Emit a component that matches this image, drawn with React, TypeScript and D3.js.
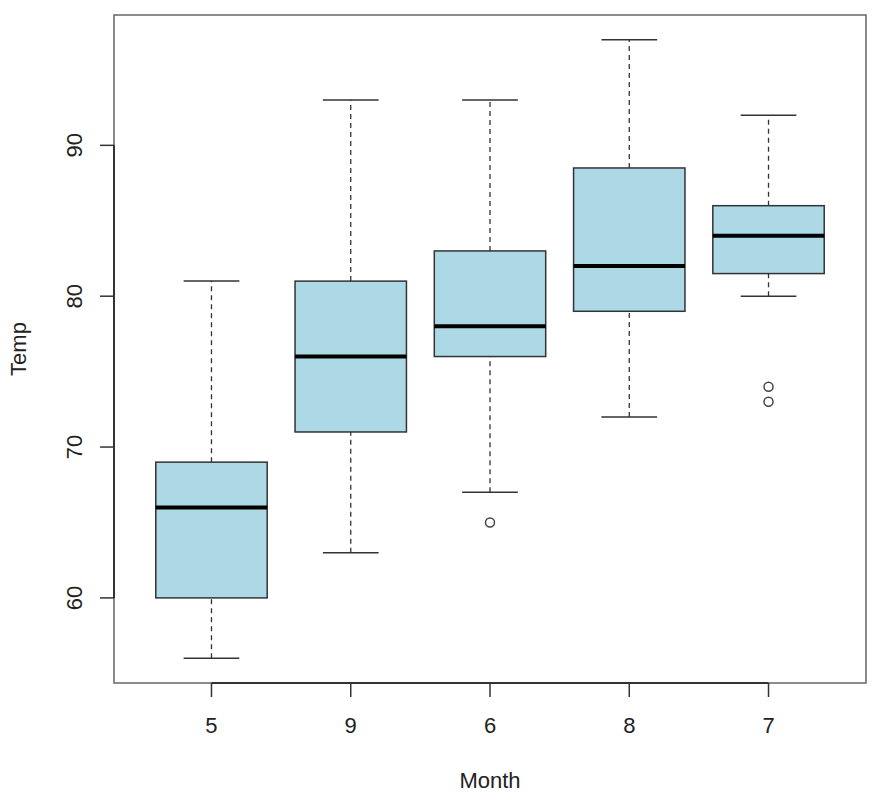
import { useEffect, useRef } from "react";
import * as d3 from "d3";

// Temperature by month, ordered by median
const months = ["5", "9", "6", "8", "7"];
const lowerWhisker = [56, 63, 67, 72, 80];
const q1 = [60, 71, 76, 79, 81.5];
const medians = [66, 76, 78, 82, 84];
const q3 = [69, 81, 83, 88.5, 86];
const upperWhisker = [81, 93, 93, 97, 92];
const outlierMonth = ["6", "7", "7"];
const outlierTemp = [65, 74, 73];
const yTicks = [60, 70, 80, 90];

const App = () => {
  const svgRef = useRef<SVGSVGElement | null>(null);

  useEffect(() => {
    if (!svgRef.current) return;
    const width = 875;
    const height = 800;
    const left = 114;
    const right = 866;
    const top = 15;
    const bottom = 683;
    const font = "Liberation Sans, Arial, sans-serif";

    const svg = d3.select(svgRef.current).attr("width", width).attr("height", height);
    svg.selectAll("*").remove();

    // R-style ranges: data range padded by 4%
    const lo = d3.min(lowerWhisker)!;
    const hi = d3.max(upperWhisker)!;
    const pad = (hi - lo) * 0.04;
    const y = d3.scaleLinear().domain([lo - pad, hi + pad]).range([bottom, top]);
    const x = d3.scaleLinear().domain([0.3, months.length + 0.7]).range([left, right]);
    const pos = (m: string) => x(months.indexOf(m) + 1);
    const boxW = x(0.8) - x(0);

    const boxes = months.map((m, i) => ({
      m,
      lw: lowerWhisker[i],
      q1: q1[i],
      med: medians[i],
      q3: q3[i],
      uw: upperWhisker[i],
    }));

    const g = svg.append("g");

    // dashed whiskers
    boxes.forEach((b) => {
      const cx = pos(b.m);
      [[b.lw, b.q1], [b.q3, b.uw]].forEach(([a, c]) => {
        g.append("line")
          .attr("x1", cx).attr("x2", cx)
          .attr("y1", y(a)).attr("y2", y(c))
          .attr("stroke", "#333")
          .attr("stroke-width", 1.3)
          .attr("stroke-dasharray", "5,4");
      });
      [b.lw, b.uw].forEach((v) => {
        g.append("line")
          .attr("x1", cx - boxW / 4).attr("x2", cx + boxW / 4)
          .attr("y1", y(v)).attr("y2", y(v))
          .attr("stroke", "#333")
          .attr("stroke-width", 1.5);
      });
    });

    // boxes and medians
    g.selectAll("rect.box")
      .data(boxes)
      .enter()
      .append("rect")
      .attr("class", "box")
      .attr("x", (d) => pos(d.m) - boxW / 2)
      .attr("width", boxW)
      .attr("y", (d) => y(d.q3))
      .attr("height", (d) => y(d.q1) - y(d.q3))
      .attr("fill", "#ADD8E6")
      .attr("stroke", "#333")
      .attr("stroke-width", 1.5);

    g.selectAll("line.median")
      .data(boxes)
      .enter()
      .append("line")
      .attr("class", "median")
      .attr("x1", (d) => pos(d.m) - boxW / 2)
      .attr("x2", (d) => pos(d.m) + boxW / 2)
      .attr("y1", (d) => y(d.med))
      .attr("y2", (d) => y(d.med))
      .attr("stroke", "#000")
      .attr("stroke-width", 4);

    // outliers
    g.selectAll("circle")
      .data(outlierTemp.map((t, i) => ({ m: outlierMonth[i], t })))
      .enter()
      .append("circle")
      .attr("cx", (d) => pos(d.m))
      .attr("cy", (d) => y(d.t))
      .attr("r", 4.5)
      .attr("fill", "none")
      .attr("stroke", "#444")
      .attr("stroke-width", 1.5);

    // plot frame
    svg.append("rect")
      .attr("x", left).attr("y", top)
      .attr("width", right - left).attr("height", bottom - top)
      .attr("fill", "none")
      .attr("stroke", "#666")
      .attr("stroke-width", 1.5);

    // y axis
    svg.append("line")
      .attr("x1", left).attr("x2", left)
      .attr("y1", y(yTicks[0])).attr("y2", y(yTicks[yTicks.length - 1]))
      .attr("stroke", "#333").attr("stroke-width", 2);
    yTicks.forEach((t) => {
      svg.append("line")
        .attr("x1", left - 14).attr("x2", left)
        .attr("y1", y(t)).attr("y2", y(t))
        .attr("stroke", "#333").attr("stroke-width", 1.5);
      svg.append("text")
        .attr("transform", `translate(${82},${y(t)}) rotate(-90)`)
        .attr("text-anchor", "middle")
        .attr("font-family", font)
        .attr("font-size", 22)
        .attr("fill", "#222")
        .text(t);
    });

    // x axis
    svg.append("line")
      .attr("x1", x(1)).attr("x2", x(months.length))
      .attr("y1", bottom).attr("y2", bottom)
      .attr("stroke", "#333").attr("stroke-width", 2);
    months.forEach((m) => {
      svg.append("line")
        .attr("x1", pos(m)).attr("x2", pos(m))
        .attr("y1", bottom).attr("y2", bottom + 14)
        .attr("stroke", "#333").attr("stroke-width", 1.5);
      svg.append("text")
        .attr("x", pos(m))
        .attr("y", 733)
        .attr("text-anchor", "middle")
        .attr("font-family", font)
        .attr("font-size", 22)
        .attr("fill", "#222")
        .text(m);
    });

    // axis titles
    svg.append("text")
      .attr("x", (left + right) / 2)
      .attr("y", 788)
      .attr("text-anchor", "middle")
      .attr("font-family", font)
      .attr("font-size", 22)
      .attr("fill", "#222")
      .text("Month");
    svg.append("text")
      .attr("transform", `translate(${26},${(top + bottom) / 2}) rotate(-90)`)
      .attr("text-anchor", "middle")
      .attr("font-family", font)
      .attr("font-size", 22)
      .attr("fill", "#222")
      .text("Temp");
  }, []);

  return (
    <svg
      ref={svgRef}
      style={{ position: "absolute", left: 0, top: 0, display: "block", background: "#fff" }}
    ></svg>
  );
};

export default App;
